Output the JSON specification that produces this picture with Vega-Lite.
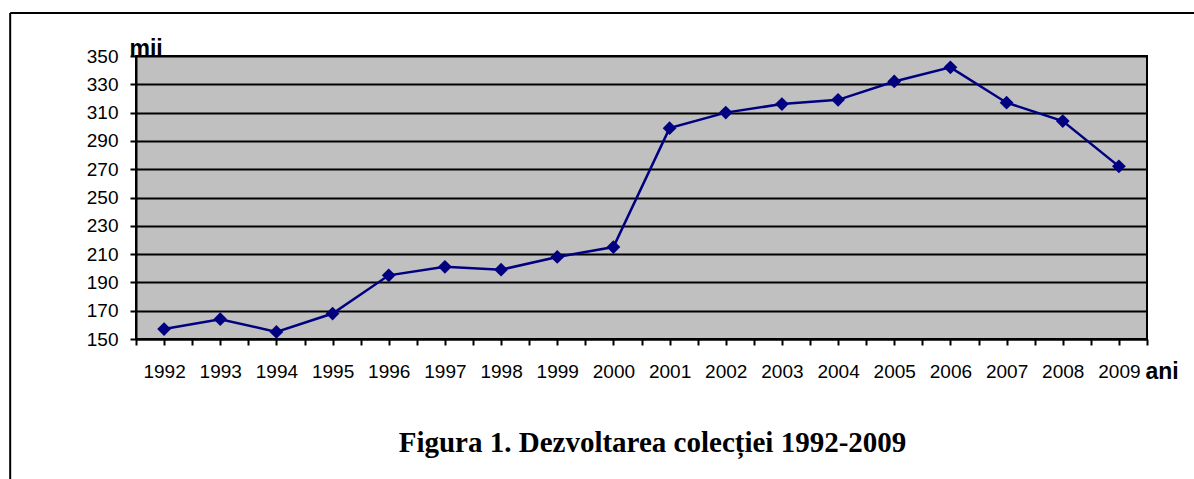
{
  "$schema": "https://vega.github.io/schema/vega-lite/v6.json",
  "width": 1011,
  "height": 283,
  "autosize": {"type": "none"},
  "padding": {"left": 136, "top": 56, "right": 47, "bottom": 140},
  "background": "white",
  "config": {
    "view": {"fill": "#c0c0c0", "stroke": "black", "strokeWidth": 2},
    "font": "Liberation Sans"
  },
  "title": {
    "text": "Figura 1. Dezvoltarea colecției 1992-2009",
    "orient": "bottom",
    "font": "Liberation Serif",
    "fontSize": 29,
    "fontWeight": "bold",
    "anchor": "middle",
    "dx": 11,
    "offset": -52,
    "color": "black"
  },
  "datasets": {
    "series": [
      {"year": 1992, "value": 157},
      {"year": 1993, "value": 164},
      {"year": 1994, "value": 155},
      {"year": 1995, "value": 168},
      {"year": 1996, "value": 195},
      {"year": 1997, "value": 201},
      {"year": 1998, "value": 199},
      {"year": 1999, "value": 208},
      {"year": 2000, "value": 215},
      {"year": 2001, "value": 299},
      {"year": 2002, "value": 310},
      {"year": 2003, "value": 316},
      {"year": 2004, "value": 319},
      {"year": 2005, "value": 332},
      {"year": 2006, "value": 342},
      {"year": 2007, "value": 317},
      {"year": 2008, "value": 304},
      {"year": 2009, "value": 272}
    ],
    "frame": [
      {"year": 1989.26, "year2": 2010.6, "value": 380.4, "value2": 380.4},
      {"year": 1989.26, "year2": 1989.26, "value": 380.4, "value2": 50.5}
    ]
  },
  "layer": [
    {
      "data": {"name": "series"},
      "mark": {"type": "line", "color": "#000080", "strokeWidth": 2.5},
      "encoding": {
        "x": {
          "field": "year",
          "type": "quantitative",
          "scale": {"domain": [1991.5, 2009.5], "nice": false, "zero": false},
          "axis": {
            "title": "ani",
            "titleX": 1009,
            "titleY": 39,
            "titleAlign": "left",
            "titleBaseline": "alphabetic",
            "titleFontSize": 23,
            "titleFontWeight": "bold",
            "titleColor": "black",
            "tickCount": 40,
            "values": [1991.5, 1992, 1992.5, 1993, 1993.5, 1994, 1994.5, 1995, 1995.5, 1996, 1996.5, 1997, 1997.5, 1998, 1998.5, 1999, 1999.5, 2000, 2000.5, 2001, 2001.5, 2002, 2002.5, 2003, 2003.5, 2004, 2004.5, 2005, 2005.5, 2006, 2006.5, 2007, 2007.5, 2008, 2008.5, 2009, 2009.5],
            "labelExpr": "datum.value % 1 === 0 ? '' + datum.value : ''",
            "labelFontSize": 19,
            "labelColor": "black",
            "labelPadding": 17,
            "labelOverlap": false,
            "labelFlush": false,
            "labelBound": false,
            "grid": false,
            "domainColor": "black",
            "domainWidth": 2,
            "tickColor": "black",
            "tickWidth": 2,
            "tickSize": 6
          }
        },
        "y": {
          "field": "value",
          "type": "quantitative",
          "scale": {"domain": [150, 350], "nice": false, "zero": false},
          "axis": {
            "title": "mii",
            "titleAngle": 0,
            "titleX": -7,
            "titleY": -1,
            "titleAlign": "left",
            "titleBaseline": "alphabetic",
            "titleFontSize": 23,
            "titleFontWeight": "bold",
            "titleColor": "black",
            "tickCount": 12,
            "values": [150, 170, 190, 210, 230, 250, 270, 290, 310, 330, 350],
            "labelFontSize": 19,
            "labelColor": "black",
            "labelPadding": 12,
            "labelOverlap": false,
            "grid": true,
            "gridColor": "black",
            "gridWidth": 2,
            "gridOpacity": 1,
            "domainColor": "black",
            "domainWidth": 2,
            "tickColor": "black",
            "tickWidth": 2,
            "tickSize": 6
          }
        }
      }
    },
    {
      "data": {"name": "series"},
      "mark": {"type": "point", "shape": "diamond", "filled": true, "size": 190, "color": "#000080", "opacity": 1},
      "encoding": {
        "x": {"field": "year", "type": "quantitative", "scale": {"domain": [1991.5, 2009.5], "nice": false, "zero": false}},
        "y": {"field": "value", "type": "quantitative", "scale": {"domain": [150, 350], "nice": false, "zero": false}}
      }
    },
    {
      "data": {"name": "frame"},
      "mark": {"type": "rule", "clip": false, "color": "black", "strokeWidth": 2},
      "encoding": {
        "x": {"field": "year", "type": "quantitative", "scale": {"domain": [1991.5, 2009.5], "nice": false, "zero": false}},
        "x2": {"field": "year2"},
        "y": {"field": "value", "type": "quantitative", "scale": {"domain": [150, 350], "nice": false, "zero": false}},
        "y2": {"field": "value2"}
      }
    }
  ]
}
